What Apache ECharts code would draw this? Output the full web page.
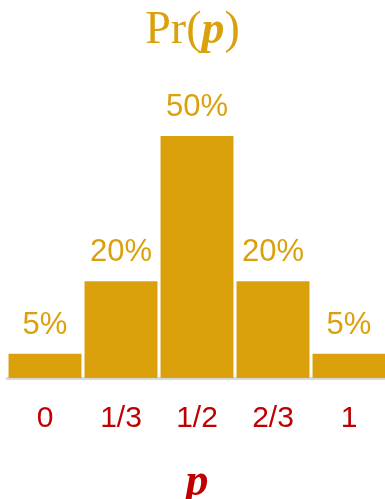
<!DOCTYPE html>
<html><head><meta charset="utf-8">
<script src="https://cdn.jsdelivr.net/npm/echarts@6/dist/echarts.min.js"></script>
<style>html,body{margin:0;padding:0;background:#fff}#c{width:385px;height:499px}</style>
</head><body><div id="c"></div>
<script>
const categories = ['0', '1/3', '1/2', '2/3', '1'];
const probabilities = [5, 20, 50, 20, 5];
const gold = '#DBA10D';
const red = '#C00000';
const chart = echarts.init(document.getElementById('c'));
chart.setOption({
  animation: false,
  title: {
    text: '{n|Pr(}{p|p}{n|)}',
    left: 'center', top: 3,
    textStyle: {
      fontWeight: 'normal',
      rich: {
        n: { fontFamily: 'Liberation Serif', fontSize: 46, color: gold, fontWeight: 'normal' },
        p: { fontFamily: 'Liberation Serif', fontSize: 46, color: gold, fontWeight: 'bold', fontStyle: 'italic' }
      }
    }
  },
  grid: { left: 7, right: -2, top: 136, bottom: 121, outerBoundsMode: 'none', containLabel: false },
  xAxis: {
    type: 'category', data: categories,
    axisLine: { lineStyle: { color: '#d9d9d9', width: 3 } },
    axisTick: { show: false },
    axisLabel: { color: red, fontSize: 30, fontFamily: 'Liberation Sans', margin: 26 },
    name: 'p', nameLocation: 'middle', nameGap: 82,
    nameTextStyle: { fontFamily: 'Liberation Serif', fontSize: 46, fontWeight: 'bold', fontStyle: 'italic', color: red }
  },
  yAxis: { type: 'value', min: 0, max: 50, show: false, splitLine: { show: false } },
  series: [{
    type: 'bar', data: probabilities, barCategoryGap: '4%',
    itemStyle: { color: gold },
    label: { show: true, position: 'top', distance: 13, color: gold, fontSize: 31, fontFamily: 'Liberation Sans', formatter: '{c}%' }
  }]
});
</script></body></html>
